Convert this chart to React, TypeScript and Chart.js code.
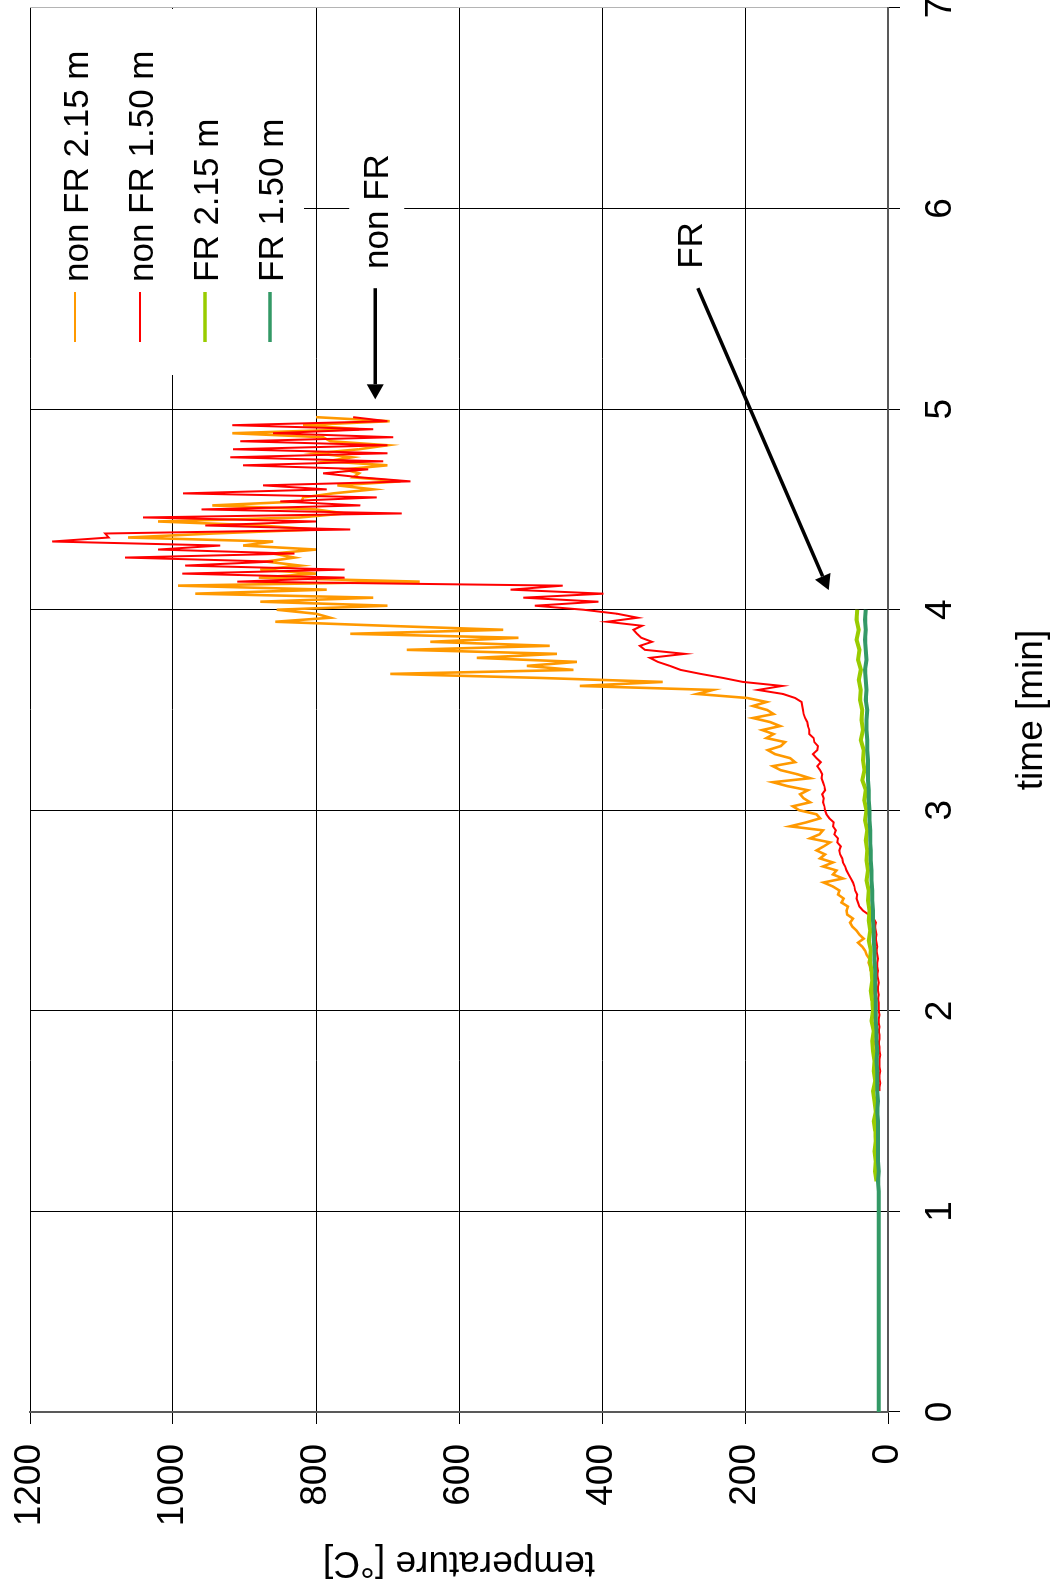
import React, { useEffect, useRef } from "react";
import { Chart, registerables } from "chart.js";

Chart.register(...registerables);

// ---------------- data ----------------
const SERIES_LABELS = ["non FR 2.15 m", "non FR 1.50 m", "FR 2.15 m", "FR 1.50 m"];
const SERIES_COLORS = ["#FF9900", "#FF0000", "#99CC00", "#339966"];

// time axis [min]
const TIME_MIN = 0;
const TIME_MAX = 7;
const TIME_STEP = 1;
// temperature axis [°C]
const TEMP_MIN = 0;
const TEMP_MAX = 1200;
const TEMP_STEP = 200;

// sampling of the series (minutes)
const NONFR_START = 1.6;
const NONFR_STEP = 0.02;
const FR215_START = 1.15;
const FR150_START = 0;
const FR_STEP = 0.05;

const NONFR_215 = [
  16, 16, 17, 16, 17, 17, 16, 17, 17, 18,
  17, 17, 18, 17, 18, 18, 17, 18, 18, 19,
  18, 18, 19, 18, 19, 20, 19, 21, 20, 22,
  24, 25, 27, 26, 30, 32, 36, 42, 34, 40,
  44, 50, 53, 49, 57, 58, 56, 65, 62, 70,
  68, 77, 90, 63, 77, 72, 91, 77, 95, 88,
  100, 90, 81, 109, 96, 91, 137, 114, 95, 100,
  124, 133, 109, 118, 123, 112, 140, 161, 109, 127,
  150, 161, 130, 137, 158, 168, 150, 144, 170, 160,
  176, 151, 165, 189, 160, 169, 189, 170, 197, 267,
  245, 431, 315, 487, 696, 440, 505, 435, 575, 463,
  673, 473, 640, 517, 752, 538, 703, 857, 780, 800,
  855, 700, 878, 720, 969, 785, 993, 655, 880, 800,
  878, 822, 870, 830, 860, 800, 902, 860, 1063, 944,
  800, 878, 1021, 822, 760, 800, 945, 820, 818, 776,
  720, 770, 682, 748, 740, 760, 700, 785, 750, 800,
  740, 700, 780, 790, 917, 740, 818, 697, 800,
];

const NONFR_150 = [
  12, 12, 11, 12, 12, 11, 12, 12, 12, 11,
  12, 12, 13, 12, 12, 13, 12, 13, 13, 12,
  13, 13, 13, 14, 13, 14, 14, 13, 14, 15,
  14, 15, 15, 14, 15, 16, 15, 16, 17, 16,
  17, 18, 17, 20, 27, 35, 40, 42, 44, 43,
  46, 47, 49, 52, 55, 58, 60, 63, 64, 67,
  68, 66, 71, 70, 75, 73, 77, 76, 82, 86,
  88, 89, 91, 90, 92, 88, 89, 91, 93, 92,
  95, 99, 94, 100, 105, 99, 98, 103, 104, 110,
  110, 112, 113, 116, 118, 119, 120, 121, 130, 147,
  182, 148, 203, 231, 262, 290, 305, 322, 333, 284,
  340, 347, 330, 345, 351, 356, 344, 393, 350, 379,
  426, 494, 405, 510, 398, 528, 455, 910, 760, 987,
  760, 983, 860, 1067, 830, 1021, 934, 1169, 1090, 1095,
  752, 955, 800, 1042, 680, 960, 738, 850, 715, 986,
  785, 874, 668, 738, 790, 727, 902, 706, 920, 700,
  916, 700, 906, 692, 860, 720, 917, 700, 748,
];

const FR_215 = [
  16, 18, 17, 19, 17, 18, 20, 17, 19, 21,
  18, 20, 19, 21, 22, 20, 23, 21, 22, 24,
  22, 23, 25, 24, 27, 25, 27, 26, 28, 27,
  30, 28, 30, 29, 31, 29, 32, 30, 33, 31,
  36, 33, 35, 34, 38, 35, 37, 36, 39, 38,
  41, 38, 42, 40, 44, 41, 44, 43,
];

const FR_150 = [
  13, 13, 13, 13, 13, 13, 13, 13, 13, 13,
  13, 13, 13, 13, 13, 13, 13, 13, 13, 13,
  13, 13, 13, 14, 13, 14, 14, 14, 14, 14,
  15, 14, 15, 15, 15, 16, 15, 16, 16, 17,
  17, 17, 18, 18, 18, 19, 19, 20, 20, 21,
  21, 22, 22, 23, 23, 24, 24, 25, 25, 26,
  26, 27, 27, 28, 28, 28, 29, 29, 30, 30,
  29, 31, 30, 31, 32, 30, 31, 32, 31, 32,
  31,
];

// annotation texts and arrows, in data units (time [min], temperature [°C])
const NOTE_TEXTS = ["non FR", "FR"];
const NOTE_TIMES = [5.985, 5.816];
const NOTE_TEMPS = [699, 260];
const ARROW_FROM_T = [5.603, 5.603];
const ARROW_FROM_Y = [717, 266];
const ARROW_TO_T = [5.049, 4.098];
const ARROW_TO_Y = [717, 83];

const FONT = "'Liberation Sans', Arial, Helvetica, sans-serif";

function toPoints(start: number, step: number, values: number[]) {
  return values.map((v, i) => ({ x: +(start + i * step).toFixed(4), y: v }));
}

const overlayPlugin = {
  id: "overlay",
  afterDraw(chart: any) {
    const { ctx, chartArea: ca, scales } = chart;
    const xs = scales.x;
    const ys = scales.y;
    ctx.save();

    // legend box (white, no border) in the upper right of the plot
    ctx.fillStyle = "#ffffff";
    ctx.fillRect(ca.right - 367, ca.top + 1, 366, 273);
    ctx.font = `35px ${FONT}`;
    ctx.textAlign = "left";
    ctx.textBaseline = "alphabetic";
    const legendWidths = [2, 2, 3.5, 3.5];
    chart.data.datasets.forEach((ds: any, i: number) => {
      const cy = ca.top + 45 + 65 * i;
      ctx.strokeStyle = ds.borderColor;
      ctx.lineWidth = legendWidths[i];
      ctx.beginPath();
      ctx.moveTo(ca.right - 334, cy);
      ctx.lineTo(ca.right - 284, cy);
      ctx.stroke();
      ctx.fillStyle = "#000";
      ctx.fillText(ds.label, ca.right - 274, cy + 13);
    });

    // annotation texts
    ctx.font = `35px ${FONT}`;
    ctx.textAlign = "center";
    ctx.textBaseline = "alphabetic";
    NOTE_TEXTS.forEach((txt, i) => {
      const px = xs.getPixelForValue(NOTE_TIMES[i]);
      const py = ys.getPixelForValue(NOTE_TEMPS[i]);
      const w = ctx.measureText(txt).width;
      ctx.fillStyle = "#ffffff";
      ctx.fillRect(px - w / 2 - 7, py - 39, w + 14, 55);
      ctx.fillStyle = "#000";
      ctx.fillText(txt, px, py);
    });

    // arrows
    ctx.strokeStyle = "#000";
    ctx.fillStyle = "#000";
    ctx.lineWidth = 3.5;
    for (let i = 0; i < ARROW_FROM_T.length; i++) {
      const x1 = xs.getPixelForValue(ARROW_FROM_T[i]);
      const y1 = ys.getPixelForValue(ARROW_FROM_Y[i]);
      const x2 = xs.getPixelForValue(ARROW_TO_T[i]);
      const y2 = ys.getPixelForValue(ARROW_TO_Y[i]);
      const len = Math.hypot(x2 - x1, y2 - y1);
      const ux = (x2 - x1) / len;
      const uy = (y2 - y1) / len;
      const head = 15;
      const half = 8.5;
      ctx.beginPath();
      ctx.moveTo(x1, y1);
      ctx.lineTo(x2 - ux * head, y2 - uy * head);
      ctx.stroke();
      ctx.beginPath();
      ctx.moveTo(x2, y2);
      ctx.lineTo(x2 - ux * head - uy * half, y2 - uy * head + ux * half);
      ctx.lineTo(x2 - ux * head + uy * half, y2 - uy * head - ux * half);
      ctx.closePath();
      ctx.fill();
    }
    ctx.restore();
  },
};

function RotatedChart() {
  const canvasRef = useRef<HTMLCanvasElement | null>(null);

  useEffect(() => {
    const canvas = canvasRef.current;
    if (!canvas) return;
    Chart.defaults.font.family = FONT;
    const seriesValues = [NONFR_215, NONFR_150, FR_215, FR_150];
    const seriesStarts = [NONFR_START, NONFR_START, FR215_START, FR150_START];
    const seriesSteps = [NONFR_STEP, NONFR_STEP, FR_STEP, FR_STEP];
    const seriesWidths = [2.6, 2, 4, 4];
    const seriesOrder = [3, 2, 1, 0];

    const chart = new Chart(canvas, {
      type: "line",
      data: {
        datasets: SERIES_LABELS.map((label, i) => ({
          label,
          data: toPoints(seriesStarts[i], seriesSteps[i], seriesValues[i]),
          borderColor: SERIES_COLORS[i],
          backgroundColor: SERIES_COLORS[i],
          borderWidth: seriesWidths[i],
          pointRadius: 0,
          tension: 0,
          fill: false,
          order: seriesOrder[i],
        })),
      },
      options: {
        animation: false,
        responsive: false,
        devicePixelRatio: 1,
        layout: { padding: { top: 30, right: 8, left: 0, bottom: 0 } },
        plugins: {
          legend: { display: false },
          tooltip: { enabled: false },
        },
        scales: {
          x: {
            type: "linear",
            min: TIME_MIN,
            max: TIME_MAX,
            ticks: {
              stepSize: TIME_STEP,
              color: "#000",
              font: { size: 37, family: FONT },
              padding: 19,
              maxRotation: 0,
              autoSkip: false,
              callback: (v: any) => String(v),
            },
            grid: {
              color: (c: any) => (c.tick && c.tick.value === TIME_MAX ? "#b4b4b4" : "#000"),
              lineWidth: 1,
              tickLength: 12,
              tickColor: "#000",
            },
            border: { color: "#595959", width: 2 },
            title: {
              display: true,
              text: "time [min]",
              color: "#000",
              font: { size: 37, family: FONT },
              padding: { top: 0, bottom: 3 },
            },
            afterFit: (scale: any) => {
              scale.height = 169;
              scale.paddingLeft = 0;
              scale.paddingRight = 0;
            },
          },
          y: {
            type: "linear",
            min: TEMP_MIN,
            max: TEMP_MAX,
            ticks: {
              stepSize: TEMP_STEP,
              color: "#000",
              font: { size: 37, family: FONT },
              padding: 20,
              autoSkip: false,
              callback: (v: any) => String(v),
            },
            grid: {
              color: "#000",
              lineWidth: 1,
              tickLength: 12,
              tickColor: "#000",
            },
            border: { color: "#595959", width: 2 },
            title: {
              display: true,
              text: "temperature [°C]",
              color: "#000",
              font: { size: 37, family: FONT },
              padding: { top: 12, bottom: 0 },
            },
            afterFit: (scale: any) => {
              scale.width = 184;
              scale.paddingTop = 0;
              scale.paddingBottom = 0;
            },
          },
        },
      },
      plugins: [overlayPlugin],
    } as any);

    return () => chart.destroy();
  }, []);

  return (
    <div
      style={{
        position: "fixed",
        left: 0,
        top: 0,
        width: 1057,
        height: 1596,
        overflow: "hidden",
        background: "#ffffff",
      }}
    >
      <div
        style={{
          position: "absolute",
          left: 0,
          top: 0,
          width: 1596,
          height: 1057,
          transformOrigin: "0 0",
          transform: "translateY(1596px) rotate(-90deg)",
        }}
      >
        <canvas
          ref={canvasRef}
          width={1596}
          height={1057}
          style={{ display: "block", width: 1596, height: 1057 }}
        />
      </div>
    </div>
  );
}

export default function App() {
  return <RotatedChart />;
}
